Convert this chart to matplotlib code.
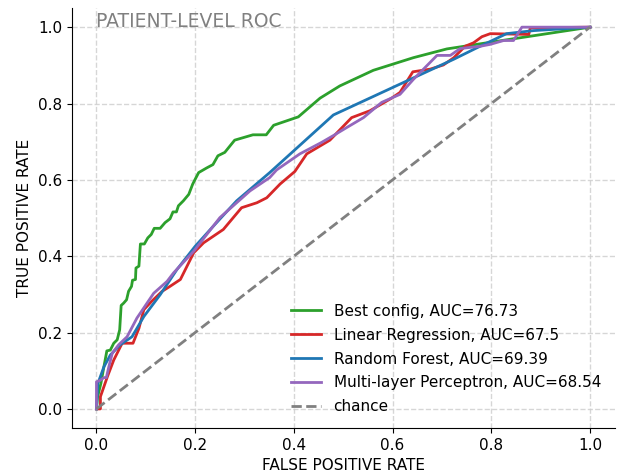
import matplotlib
matplotlib.use('Agg')
import matplotlib.pyplot as plt

# ROC curves (false positive rate, true positive rate)
best_fpr = [0.0, 0.002, 0.009, 0.015, 0.021, 0.028, 0.035, 0.042, 0.047, 0.050, 0.055,
            0.061, 0.065, 0.071, 0.073, 0.079, 0.080, 0.086, 0.089, 0.097, 0.104,
            0.111, 0.117, 0.129, 0.139, 0.149, 0.155, 0.162, 0.166, 0.176, 0.187,
            0.195, 0.207, 0.223, 0.236, 0.246, 0.260, 0.280, 0.317, 0.344, 0.359,
            0.409, 0.453, 0.493, 0.561, 0.642, 0.710, 0.791, 1.0]
best_tpr = [0.0, 0.03, 0.067, 0.11, 0.152, 0.154, 0.172, 0.181, 0.207, 0.271, 0.277,
            0.286, 0.308, 0.321, 0.337, 0.339, 0.369, 0.374, 0.432, 0.432, 0.448,
            0.457, 0.473, 0.473, 0.488, 0.498, 0.516, 0.516, 0.532, 0.545, 0.562,
            0.589, 0.619, 0.631, 0.640, 0.663, 0.672, 0.704, 0.718, 0.718, 0.743,
            0.765, 0.814, 0.846, 0.887, 0.920, 0.943, 0.959, 1.0]

lr_fpr = [0.0, 0.008, 0.008, 0.015, 0.022, 0.035, 0.052, 0.074, 0.086, 0.096, 0.112,
          0.133, 0.149, 0.170, 0.197, 0.217, 0.257, 0.294, 0.325, 0.345, 0.372,
          0.402, 0.426, 0.473, 0.517, 0.554, 0.598, 0.615, 0.641, 0.676, 0.703,
          0.724, 0.747, 0.764, 0.781, 0.798, 0.876, 0.879, 1.0]
lr_tpr = [0.0, 0.0, 0.032, 0.058, 0.084, 0.128, 0.172, 0.172, 0.211, 0.260, 0.282,
          0.308, 0.321, 0.339, 0.409, 0.435, 0.470, 0.527, 0.540, 0.553, 0.589,
          0.622, 0.668, 0.704, 0.763, 0.781, 0.814, 0.829, 0.883, 0.890, 0.901,
          0.920, 0.950, 0.959, 0.975, 0.983, 0.981, 0.998, 1.0]

rf_fpr = [0.0, 0.003, 0.015, 0.028, 0.048, 0.072, 0.096, 0.129, 0.163, 0.200, 0.237,
          0.284, 0.351, 0.480, 0.622, 0.724, 0.771, 0.831, 0.886, 1.0]
rf_tpr = [0.0, 0.067, 0.11, 0.141, 0.168, 0.189, 0.242, 0.299, 0.365, 0.426, 0.479,
          0.545, 0.619, 0.770, 0.855, 0.916, 0.946, 0.983, 0.991, 1.0]

mlp_fpr = [0.0, 0.0, 0.008, 0.015, 0.020, 0.025, 0.032, 0.045, 0.062, 0.082, 0.116,
           0.143, 0.156, 0.197, 0.250, 0.311, 0.351, 0.365, 0.412, 0.456, 0.480,
           0.507, 0.541, 0.578, 0.615, 0.642, 0.690, 0.717, 0.737, 0.778, 0.798,
           0.825, 0.845, 0.862, 1.0]
mlp_tpr = [0.0, 0.071, 0.075, 0.082, 0.082, 0.11, 0.146, 0.168, 0.189, 0.238, 0.303,
           0.334, 0.356, 0.413, 0.501, 0.571, 0.606, 0.626, 0.668, 0.698, 0.716,
           0.737, 0.763, 0.803, 0.824, 0.863, 0.926, 0.926, 0.944, 0.950, 0.955,
           0.965, 0.965, 1.0, 1.0]

labels = ["Best config, AUC=76.73", "Linear Regression, AUC=67.5",
          "Random Forest, AUC=69.39", "Multi-layer Perceptron, AUC=68.54"]
colors = ["#2ca02c", "#d62728", "#1f77b4", "#9467bd"]

plt.rcParams['font.size'] = 11

fig = plt.figure(figsize=(6.19, 4.75), dpi=100)
ax = fig.add_axes([0.116, 0.099, 0.877, 0.884])

curves = [(best_fpr, best_tpr), (lr_fpr, lr_tpr), (rf_fpr, rf_tpr), (mlp_fpr, mlp_tpr)]
for (fpr, tpr), lab, col in zip(curves, labels, colors):
    ax.plot(fpr, tpr, color=col, linewidth=2, label=lab)
ax.plot([0, 1], [0, 1], linestyle='--', color='gray', linewidth=2, label='chance')

ax.set_xlim(-0.05, 1.05)
ax.set_ylim(-0.05, 1.05)
ax.set_xticks([0, 0.2, 0.4, 0.6, 0.8, 1.0])
ax.set_yticks([0, 0.2, 0.4, 0.6, 0.8, 1.0])
ax.grid(True, linestyle='--', color='#cccccc', linewidth=1, alpha=0.8)
ax.set_axisbelow(True)
for s in ['top', 'right']:
    ax.spines[s].set_visible(False)

ax.set_xlabel("FALSE POSITIVE RATE")
ax.set_ylabel("TRUE POSITIVE RATE")
ax.text(0.0, 1.0, "PATIENT-LEVEL ROC", color='gray', fontsize=13.5,
        ha='left', va='baseline', transform=ax.transData)

ax.legend(loc='lower right', frameon=False, labelspacing=0.58)

fig.savefig("out.png", dpi=100)
